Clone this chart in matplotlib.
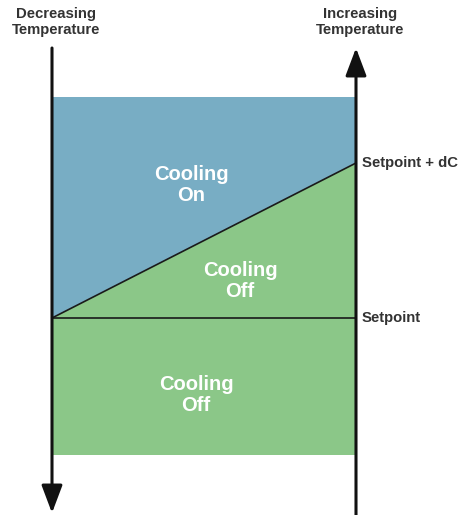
import matplotlib.pyplot as plt
from matplotlib.patches import Polygon, Rectangle

# layout in pixel units of the 460x515 picture (y grows downward)
x_left, x_right = 52, 356
y_top_arrow, y_bottom_arrow = 48, 513
y_band_top, y_band_bottom = 97, 455
y_setpoint, y_setpoint_dc = 318, 163

blue = "#78adc4"
green = "#8bc788"
text_dark = "#333333"

region_labels = ["Cooling\nOn", "Cooling\nOff", "Cooling\nOff"]
region_pos = [(191, 185), (240, 281), (196, 395)]
level_labels = ["Setpoint + dC", "Setpoint"]
level_y = [y_setpoint_dc, y_setpoint]

fig = plt.figure(figsize=(4.6, 5.15), dpi=100)
ax = fig.add_axes([0, 0, 1, 1])
ax.set_xlim(0, 460)
ax.set_ylim(515, 0)
ax.axis("off")

# blue "cooling on" band above the ramp
ax.add_patch(Rectangle((x_left, y_band_top), x_right - x_left, y_setpoint - y_band_top,
                       facecolor=blue, edgecolor="none"))
# green ramp triangle + lower band
ax.add_patch(Polygon([(x_left, y_setpoint), (x_right, y_setpoint_dc), (x_right, y_setpoint)],
                     closed=True, facecolor=green, edgecolor="none"))
ax.add_patch(Rectangle((x_left, y_setpoint), x_right - x_left, y_band_bottom - y_setpoint,
                       facecolor=green, edgecolor="none"))

# ramp and setpoint lines
ax.plot([x_left, x_right], [y_setpoint, y_setpoint_dc], color="#1a1a1a", lw=1.2)
ax.plot([x_left, x_right], [y_setpoint, y_setpoint], color="#1a1a1a", lw=1.2)

# axes arrows
arrow = dict(arrowstyle="-|>,head_length=0.85,head_width=0.32", mutation_scale=20,
             lw=2.2, color="#111111", shrinkA=0, shrinkB=0)
ax.annotate("", xy=(x_left, y_bottom_arrow), xytext=(x_left, y_top_arrow), arrowprops=arrow)
ax.annotate("", xy=(x_right, y_top_arrow), xytext=(x_right, 515), arrowprops=arrow)

# region labels
for txt, (x, y) in zip(region_labels, region_pos):
    ax.text(x, y, txt, color="white", fontsize=14.5, fontweight="bold",
            family="Liberation Sans", ha="center", va="center", linespacing=1.1)

# level labels
for txt, y in zip(level_labels, level_y):
    ax.text(362, y, txt, color=text_dark, fontsize=10.7, fontweight="bold",
            family="Liberation Sans", ha="left", va="center")

# header labels
ax.text(56, 22, "Decreasing\nTemperature", color=text_dark, fontsize=10.7, fontweight="bold",
        family="Liberation Sans", ha="center", va="center", linespacing=1.1)
ax.text(360, 22, "Increasing\nTemperature", color=text_dark, fontsize=10.7, fontweight="bold",
        family="Liberation Sans", ha="center", va="center", linespacing=1.1)

fig.savefig("out.png", dpi=100)
